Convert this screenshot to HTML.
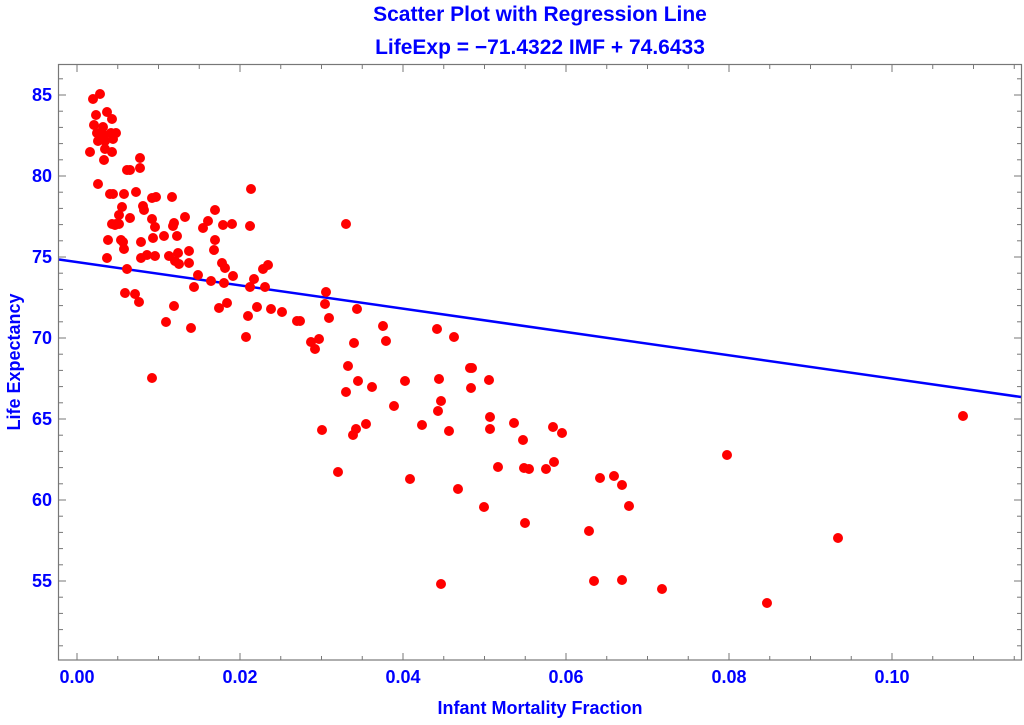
<!DOCTYPE html>
<html><head><meta charset="utf-8"><style>
body{margin:0;background:#fff;}
svg text{font-family:"Liberation Sans",Arial,sans-serif;font-weight:bold;fill:#0000ff;}
</style></head><body>
<svg width="1024" height="720" xmlns="http://www.w3.org/2000/svg">
<text x="540" y="21" font-size="21" text-anchor="middle">Scatter Plot with Regression Line</text>
<text x="540" y="54" font-size="21" text-anchor="middle">LifeExp = −71.4322 IMF + 74.6433</text>
<rect x="58.5" y="64.5" width="963" height="595.5" fill="none" stroke="#777" stroke-width="1.2"/>
<g id="ticks" stroke="#777" stroke-width="1"></g>
<g font-size="18" text-anchor="middle">
<text x="77" y="683">0.00</text><text x="240" y="683">0.02</text><text x="403" y="683">0.04</text><text x="566" y="683">0.06</text><text x="729" y="683">0.08</text><text x="892" y="683">0.10</text>
</g>
<g font-size="18" text-anchor="end">
<text x="52" y="101">85</text><text x="52" y="182">80</text><text x="52" y="263">75</text><text x="52" y="344">70</text><text x="52" y="425">65</text><text x="52" y="506">60</text><text x="52" y="587">55</text>
</g>
<text x="540" y="714" font-size="18" text-anchor="middle">Infant Mortality Fraction</text>
<text transform="translate(20,362) rotate(-90)" font-size="18" text-anchor="middle">Life Expectancy</text>
<line x1="59" y1="259.5" x2="1021" y2="397" stroke="#0000ff" stroke-width="2.5"/>
<g id="pts" fill="#ff0000"></g>
</svg>
<script>
var t=document.getElementById('ticks'),s='';
function L(a,b,c,d){s+='<line x1="'+a+'" y1="'+b+'" x2="'+c+'" y2="'+d+'"/>';}
for(var i=0;i<=23;i++){var x=77+i*0.005*8150;if(x>1021)break;var m=i%4==0?7:4;L(x,660,x,660-m);L(x,65,x,65+m);}
for(var v=51;v<=88;v++){var y=95+(85-v)*16.2;if(y<65||y>660)continue;var m=v%5==0?7:4;L(59,y,59+m,y);L(1021,y,1021-m,y);}
t.innerHTML=s;
var P=[[93,99],[100,94],[96,115],[107,112],[112,119],[94,125],[103,127],[97,133],[111,133],[116,133],[104,135],[113,139],[98,141],[105,141],[105,149],[90,152],[112,152],[104,160],[140,158],[127,170],[130,170],[140,168],[98,184],[110,194],[113,194],[124,194],[136,192],[143,206],[122,207],[119,215],[144,210],[119,224],[116,224],[115,225],[112,224],[130,218],[123,242],[108,240],[121,240],[141,242],[124,249],[141,258],[147,255],[107,258],[127,269],[125,293],[139,302],[135,294],[152,378],
[248,316],[257,307],[271,309],[282,312],[297,321],[246,337],[346,224],[326,292],
[174,306],[166,322],[191,328],[219,308],[227,303],[211,281],[224,283],[194,287],[198,275],[233,276],[222,263],[225,268],[250,287],[254,279],[265,287],[263,269],[268,265],
[155,256],[169,256],[178,253],[175,261],[179,264],[189,251],[189,263],[153,238],[164,236],[177,236],[215,240],[214,250],[155,227],[152,219],[174,223],[173,226],[185,217],[203,228],[208,221],[215,210],[223,225],[232,224],[250,226],[251,189],[172,197],[156,197],[152,198],
[325,304],[357,309],[329,318],[300,321],[383,326],[386,341],[437,329],[454,337],[311,342],[319,339],[315,349],[354,343],[348,366],[358,381],[346,392],[372,387],[405,381],[439,379],[470,368],[472,368],[471,388],[489,380],[394,406],[441,401],[438,411],[322,430],[356,429],[353,435],[366,424],[422,425],[449,431],[490,417],[490,429],[514,423],[523,440],[553,427],[562,433],[338,472],[410,479],[458,489],[498,467],[524,468],[529,469],[546,469],[554,462],[484,507],[600,478],[614,476],[622,485],[629,506],[589,531],[525,523],[441,584],[594,581],[622,580],[662,589],
[727,455],[767,603],[838,538],[963,416]];
var h='';P.forEach(function(p){h+='<circle cx="'+p[0]+'" cy="'+p[1]+'" r="5"/>';});
document.getElementById('pts').innerHTML=h;
</script>
</body></html>
